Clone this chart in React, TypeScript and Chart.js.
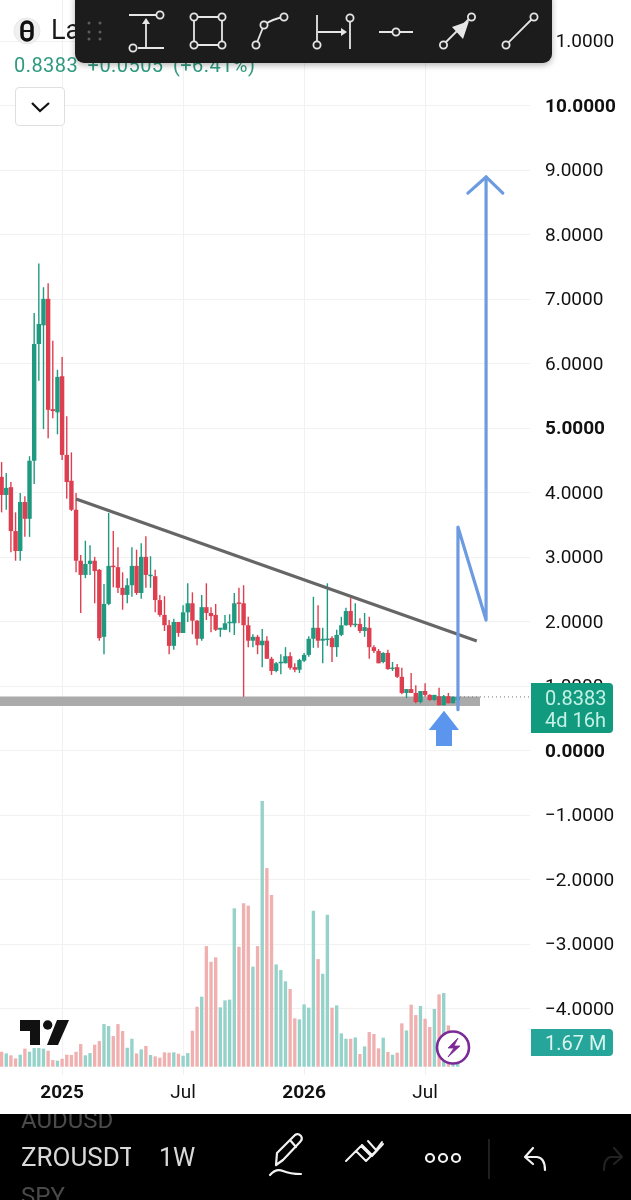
import React, { useEffect, useRef } from "react";
import { Chart, registerables } from "chart.js";

Chart.register(...registerables);

const opens = [4.25,3.97,4.09,3.41,3.10,3.86,3.60,4.50,6.31,6.60,7.01,5.30,5.25,5.81,4.59,4.19,3.74,2.95,2.73,2.90,2.95,2.81,1.77,2.28,2.87,2.85,2.53,2.42,2.57,2.87,2.45,3.01,2.71,2.71,2.34,2.11,1.95,1.63,2.00,1.83,2.15,2.29,2.02,1.74,2.23,2.14,2.11,1.88,1.88,1.98,1.98,2.29,2.29,1.95,1.71,1.77,1.64,1.71,1.43,1.24,1.36,1.36,1.47,1.30,1.26,1.40,1.49,1.74,1.91,1.71,1.72,1.75,1.61,1.80,1.95,2.17,1.95,1.97,1.86,1.91,1.61,1.55,1.38,1.52,1.27,1.30,1.15,0.90,0.96,0.90,0.76,0.93,0.87,0.79,0.85,0.71,0.85,0.74,0.788];
const highs = [4.48,4.31,4.17,3.70,4.00,3.95,4.57,6.79,7.56,7.19,7.25,6.36,5.91,6.11,5.19,4.63,4.00,3.04,3.26,3.19,3.01,2.82,2.59,3.69,3.41,3.16,2.77,2.68,3.16,3.12,3.22,3.33,3.02,2.81,2.42,2.40,2.03,2.05,2.00,2.26,2.60,2.46,2.03,2.42,2.60,2.23,2.28,1.91,2.11,2.12,2.45,2.53,2.57,2.08,1.81,1.80,1.89,1.78,1.46,1.38,1.50,1.61,1.53,1.36,1.43,1.52,1.78,2.39,2.26,1.91,2.60,1.78,1.88,2.08,2.22,2.37,2.29,2.06,2.14,2.08,1.64,1.58,1.53,1.57,1.38,1.35,1.29,0.96,1.21,1.02,0.93,1.05,0.88,0.87,0.98,0.87,0.90,0.85,0.87];
const lows = [3.70,3.74,3.08,2.95,2.95,3.32,3.32,4.14,5.74,4.99,4.85,5.16,4.91,4.51,3.91,3.72,2.77,2.14,2.68,2.73,2.29,1.71,1.50,2.26,2.54,2.45,2.19,2.29,2.39,2.42,2.36,2.53,2.53,2.15,2.08,1.86,1.50,1.57,1.77,1.83,2.00,1.81,1.64,1.71,2.03,1.84,1.86,1.77,1.88,1.84,1.80,1.98,0.84,1.61,1.61,1.50,1.30,1.43,1.18,1.22,1.19,1.36,1.26,1.22,1.21,1.38,1.46,1.60,1.60,1.36,1.63,1.38,1.46,1.78,1.94,1.92,1.92,1.83,1.77,1.43,1.52,1.36,1.36,1.26,1.24,1.13,0.88,0.82,0.90,0.74,0.74,0.84,0.78,0.78,0.71,0.71,0.74,0.74,0.76];
const closes = [3.97,4.08,3.41,3.10,3.86,3.60,4.50,6.31,6.62,7.01,5.29,5.27,5.80,4.59,4.17,3.74,2.95,2.73,2.90,2.95,2.79,1.75,2.28,2.87,2.85,2.53,2.42,2.57,2.87,2.45,3.01,2.73,2.73,2.34,2.11,1.95,1.63,2.00,1.83,2.15,2.29,2.02,1.74,2.23,2.14,2.09,1.88,1.91,1.98,2.00,2.29,2.28,1.95,1.71,1.77,1.64,1.71,1.43,1.24,1.36,1.38,1.47,1.29,1.26,1.41,1.49,1.74,1.91,1.71,1.74,1.74,1.61,1.80,1.95,2.17,1.95,1.97,1.86,1.92,1.61,1.55,1.36,1.52,1.27,1.29,1.15,0.90,0.96,0.90,0.76,0.93,0.87,0.79,0.87,0.71,0.85,0.74,0.84,0.8383];
const volumesM = [1.01,0.90,0.77,0.56,0.81,1.22,1.01,1.26,1.26,1.22,1.08,0.45,0.41,0.54,0.81,0.79,1.01,1.53,0.77,0.92,1.49,1.73,2.88,2.75,2.07,2.88,2.41,1.28,1.89,0.90,1.17,1.40,0.79,0.70,0.61,0.97,0.95,0.97,0.88,0.74,0.92,2.43,4.05,4.73,8.15,7.09,7.39,4.01,4.48,4.53,10.70,8.11,11.04,10.88,6.76,8.15,17.95,13.42,11.60,6.91,6.53,5.77,5.25,3.27,3.20,4.21,3.99,10.54,7.27,6.28,10.27,3.99,4.14,2.25,1.89,1.89,1.98,0.86,1.37,2.34,2.21,1.24,1.96,0.99,0.81,0.95,2.93,2.45,4.19,3.49,4.10,3.24,2.68,3.90,4.89,4.98,2.79,1.35,1.67];

const priceTicks = [11,10,9,8,7,6,5,4,3,2,1,0,-1,-2,-3,-4];
const boldPrices = [10,5,0];
const timeTicks = [13,39,65,91];
const timeLabels = ["2025","Jul","2026","Jul"];
const boldTimes = ["2025","2026"];

const lastPrice = 0.8383;
const trendLine = [{x:16,y:3.907},{x:102.1,y:1.705}];
const supportBand = [{x:-0.344,y:0.77},{x:102.8,y:0.77}];
const priceLine = [{x:98.5,y:lastPrice},{x:113.5,y:lastPrice}];
const projection = [{x:98.06,y:0.64},{x:98.06,y:3.473},{x:104.1,y:2.03},{x:104.1,y:8.9}];
const arrowHead = [{x:100.2,y:8.65},{x:104.1,y:8.9},{x:107.7,y:8.65}];
const upArrow = [[95.06,0.625],[98.28,0.326],[96.78,0.326],[96.78,0.078],[93.34,0.078],[93.34,0.326],[91.77,0.326]];

const UP = "#1f9a80";
const DOWN = "#dd3f50";
const UP_VOL = "#94d2ca";
const DOWN_VOL = "#f0b0b0";
const FONT = "Roboto";

const idx = closes.map((_, i) => i);
const isUp = idx.map((i) => closes[i] >= opens[i]);

const polygonPlugin = {
  id: "polygon",
  afterDatasetsDraw(chart: any) {
    const { ctx, scales } = chart;
    ctx.save();
    ctx.fillStyle = "#5b95ee";
    ctx.beginPath();
    upArrow.forEach(([x, y], k) => {
      const px = scales.x.getPixelForValue(x);
      const py = scales.y.getPixelForValue(y);
      if (k === 0) ctx.moveTo(px, py);
      else ctx.lineTo(px, py);
    });
    ctx.closePath();
    ctx.fill();
    ctx.restore();
  },
};

function fixAxis(size: "w" | "h", v: number) {
  return (s: any) => {
    if (size === "w") s.width = v;
    else s.height = v;
    s.paddingTop = 0;
    s.paddingBottom = 0;
    s.paddingLeft = 0;
    s.paddingRight = 0;
  };
}

const lineBase = { type: "line", pointRadius: 0, fill: false, tension: 0, yAxisID: "y", xAxisID: "x" };

function Toolbar() {
  const s = { stroke: "#e6e6e6", strokeWidth: 1.8, fill: "none" } as any;
  const c = (x: number, y: number, r = 3.6) => <circle cx={x} cy={y} r={r} {...s} fill="#1f1f1f" />;
  return (
    <svg width={631} height={80} style={{ position: "absolute", left: 0, top: 0 }}>
      <defs>
        <filter id="sh" x="-5%" y="-20%" width="110%" height="150%">
          <feDropShadow dx="0" dy="2" stdDeviation="3" floodColor="#000" floodOpacity="0.3" />
        </filter>
      </defs>
      <rect x={75} y={-10} width={477} height={73} rx={9} fill="#1f1f1f" filter="url(#sh)" />
      {[89, 100].map((x) => [23, 32, 39].map((y) => <circle key={`${x}-${y}`} cx={x} cy={y} r={1.5} fill="#5d5d5d" />))}
      <path d="M129 15H156M138 48H164M146 47V21" {...s} />
      <path d="M142 24L146 18L150 24Z" fill="#e6e6e6" />
      {c(160, 15)}{c(133, 48)}
      <path d="M194 17H222V45H194Z" {...s} />
      {c(194, 17)}{c(222, 17)}{c(194, 45)}{c(222, 45)}
      <path d="M256 45L264 25Q272 19 284 17" {...s} />
      {c(256, 45)}{c(264, 25)}{c(284, 17)}
      <path d="M317 15V45M350 18V49M318 32H345" {...s} />
      <path d="M341 28L347 32L341 36Z" fill="#e6e6e6" />
      {c(317, 45)}{c(350, 18)}
      <path d="M379 32H413" {...s} />
      {c(396, 32)}
      <path d="M443 45L471 17" {...s} />
      <path d="M452 27L469 21L463 39Z" fill="#e6e6e6" />
      {c(443.5, 45)}{c(471.5, 17)}
      <path d="M506 45L534 17" {...s} />
      {c(506, 45)}{c(534, 17)}
    </svg>
  );
}

function Footer() {
  const s = { stroke: "#f2f2f2", strokeWidth: 2.2, fill: "none", strokeLinecap: "round", strokeLinejoin: "round" } as any;
  const t = { position: "absolute", fontFamily: FONT, whiteSpace: "nowrap", lineHeight: 1 } as any;
  return (
    <div style={{ position: "absolute", left: 0, top: 1114, width: 631, height: 86, background: "#000", overflow: "hidden" }}>
      <span style={{ ...t, left: 21, top: -6, fontSize: 24, color: "#4a4a4a" }}>AUDUSD</span>
      <div style={{ position: "absolute", left: 21, top: 30, width: 110, height: 30, overflow: "hidden" }}>
        <span style={{ ...t, left: 0, top: 0, fontSize: 26, fontWeight: 400, color: "#d8d8d8" }}>ZROUSDT</span>
      </div>
      <span style={{ ...t, left: 159, top: 31, fontSize: 25, fontWeight: 400, color: "#d8d8d8" }}>1W</span>
      <span style={{ ...t, left: 21, top: 70, fontSize: 24, color: "#4a4a4a" }}>SPY</span>
      <svg width={631} height={86} style={{ position: "absolute", left: 0, top: 0 }}>
        <path d="M276 51L277 39L295 21Q298 19 301 22Q303 25 300 28L283 46Z M290 26L296 33" {...s} />
        <path d="M270 61Q276 54 283 57T301 60" {...s} />
        <path d="M346 47L356 37L366 47L371 42L361 32L346 47 M362 31L372 41L383 30L372 42L362 31" {...s} strokeWidth={2} />
        <path d="M368 27L376 36L382 28" {...s} strokeWidth={2} />
        <circle cx={430} cy={44} r={4} {...s} /><circle cx={443} cy={44} r={4} {...s} /><circle cx={456} cy={44} r={4} {...s} />
        <path d="M489 25V65" stroke="#2a2a2a" strokeWidth={1.5} />
        <path d="M533 34L525 43L533 50M526 43H537Q545 44 545 56" {...s} />
        <path d="M614 34L622 43L614 50M621 43H610Q604 45 604 56" {...s} stroke="#222" />
      </svg>
    </div>
  );
}

export default function App() {
  const ref = useRef<HTMLCanvasElement>(null);
  useEffect(() => {
    const chart = new Chart(ref.current as HTMLCanvasElement, {
      type: "bar",
      plugins: [polygonPlugin],
      data: {
        datasets: [
          {
            label: "Volume",
            yAxisID: "yVol",
            order: 10,
            grouped: false,
            barPercentage: 1,
            categoryPercentage: 0.72,
            data: idx.map((i) => ({ x: i, y: volumesM[i] })),
            backgroundColor: idx.map((i) => (isUp[i] ? UP_VOL : DOWN_VOL)),
          },
          {
            ...lineBase,
            label: "Support band",
            order: 9,
            data: supportBand,
            borderColor: "#aaaaaa",
            borderWidth: 9.5,
            borderCapStyle: "butt",
          },
          {
            label: "Wicks",
            yAxisID: "y",
            order: 8,
            grouped: false,
            barPercentage: 1,
            categoryPercentage: 0.3,
            data: idx.map((i) => ({ x: i, y: [lows[i], highs[i]] })),
            backgroundColor: idx.map((i) => (isUp[i] ? UP : DOWN)),
          },
          {
            label: "Bodies",
            yAxisID: "y",
            order: 7,
            grouped: false,
            barPercentage: 1,
            categoryPercentage: 0.95,
            minBarLength: 1.5,
            data: idx.map((i) => ({ x: i, y: [opens[i], closes[i]] })),
            backgroundColor: idx.map((i) => (isUp[i] ? UP : DOWN)),
          },
          {
            ...lineBase,
            label: "Last price",
            order: 6,
            data: priceLine,
            borderColor: "#777777",
            borderWidth: 1,
            borderDash: [1, 3],
          },
          {
            ...lineBase,
            label: "Trend",
            order: 5,
            data: trendLine,
            borderColor: "#666666",
            borderWidth: 3.2,
          },
          {
            ...lineBase,
            label: "Projection",
            order: 4,
            data: projection,
            borderColor: "#6c9be0",
            borderWidth: 3.2,
            borderCapStyle: "round",
            borderJoinStyle: "round",
          },
          {
            ...lineBase,
            label: "Head",
            order: 3,
            data: arrowHead,
            borderColor: "#6c9be0",
            borderWidth: 3.2,
            borderCapStyle: "round",
            borderJoinStyle: "round",
          },
        ] as any,
      },
      options: {
        responsive: false,
        animation: false,
        maintainAspectRatio: false,
        layout: { padding: 0 },
        plugins: { legend: { display: false }, title: { display: false }, tooltip: { enabled: false } },
        scales: {
          x: {
            type: "linear",
            position: "bottom",
            offset: false,
            min: -0.344,
            max: 113.54,
            afterBuildTicks: (s: any) => {
              s.ticks = timeTicks.map((value) => ({ value }));
            },
            afterFit: fixAxis("h", 39),
            grid: { color: "#f1f1f1", lineWidth: 1, drawTicks: false, offset: false },
            border: { display: false },
            ticks: {
              autoSkip: false,
              maxRotation: 0,
              padding: 7,
              color: "#111111",
              callback: (v: any) => timeLabels[timeTicks.indexOf(v)],
              font: (c: any) => ({
                family: FONT,
                size: 19,
                weight: boldTimes.includes(timeLabels[timeTicks.indexOf(c.tick?.value)]) ? "700" : "400",
              }),
            },
          },
          y: {
            type: "linear",
            position: "right",
            min: -5.0233,
            max: 11.6434,
            afterBuildTicks: (s: any) => {
              s.ticks = priceTicks.map((value) => ({ value }));
            },
            afterFit: fixAxis("w", 101),
            grid: { color: "#f1f1f1", lineWidth: 1, drawTicks: false },
            border: { display: false },
            ticks: {
              autoSkip: false,
              padding: 15,
              labelOffset: 1,
              color: "#111111",
              callback: (v: any) => (v < 0 ? "\u2212" : "") + Math.abs(v).toFixed(4),
              font: (c: any) => ({
                family: FONT,
                size: 19,
                weight: boldPrices.includes(c.tick?.value) ? "700" : "400",
              }),
            },
          },
          yVol: {
            type: "linear",
            display: false,
            position: "left",
            min: -0.56,
            max: 72.07,
          },
        },
      } as any,
    });
    return () => chart.destroy();
  }, []);

  const t = { position: "absolute", fontFamily: FONT, whiteSpace: "nowrap", lineHeight: 1 } as any;
  return (
    <div style={{ position: "absolute", left: 0, top: 0, width: 631, height: 1200, background: "#fff", overflow: "hidden" }}>
      <canvas ref={ref} width={631} height={1114} style={{ display: "block", position: "absolute", left: 0, top: 0 }} />

      <svg width={70} height={60} style={{ position: "absolute", left: 0, top: 0 }}>
        <circle cx={27} cy={31} r={13} fill="#f0f0f0" stroke="#e8e8e8" />
        <rect x={22} y={22} width={10} height={18} rx={5} fill="none" stroke="#111" strokeWidth={3.5} />
        <path d="M27 24V38" stroke="#f0f0f0" strokeWidth={2} />
        <path d="M22 31H27M27 31H32" stroke="#111" strokeWidth={2} />
      </svg>
      <span style={{ ...t, left: 51, top: 17, fontSize: 27, color: "#1a1a1a" }}>La</span>
      <span style={{ ...t, left: 14, top: 55, fontSize: 20, color: "#2f9a80", letterSpacing: 0.45, wordSpacing: 4 }}>0.8383 +0.0505 (+6.41%)</span>

      <div style={{ position: "absolute", left: 15, top: 87, width: 50, height: 39, boxSizing: "border-box", border: "1px solid #dfdfdf", borderRadius: 4, background: "#fff" }} />
      <svg width={70} height={130} style={{ position: "absolute", left: 0, top: 0 }}>
        <path d="M32 103L40 111L49 103" fill="none" stroke="#111" strokeWidth={2.2} />
      </svg>

      <Toolbar />

      <div style={{ position: "absolute", left: 531, top: 683, width: 82, height: 50, background: "#129a7f", borderRadius: "0 4px 4px 0" }}>
        <span style={{ ...t, left: 14, top: 5, fontSize: 20, color: "#c4f1e6" }}>0.8383</span>
        <span style={{ ...t, left: 14, top: 27, fontSize: 20, color: "#c4f1e6" }}>4d 16h</span>
      </div>
      <div style={{ position: "absolute", left: 531, top: 1029, width: 82, height: 27, background: "#26a69a", borderRadius: "0 4px 4px 0" }}>
        <span style={{ ...t, left: 14, top: 4, fontSize: 20, color: "#d9f4ef" }}>1.67 M</span>
      </div>

      <svg width={100} height={60} viewBox="0 1010 100 60" style={{ position: "absolute", left: 0, top: 1010 }}>
        <path d="M20 1020H40V1045H30V1031H20Z" fill="#111" />
        <circle cx={47.7} cy={1025} r={4.7} fill="#111" />
        <path d="M57 1020H69L58 1045H47Z" fill="#111" />
      </svg>
      <svg width={50} height={50} viewBox="428 1023 50 50" style={{ position: "absolute", left: 428, top: 1023 }}>
        <circle cx={453} cy={1047.5} r={16} fill="#fff" stroke="#7b2a96" strokeWidth={2.6} />
        <path d="M458 1038L448 1048H454L448 1057L460 1046H454L458 1038Z" fill="#7b2a96" stroke="#7b2a96" strokeWidth={0.8} />
      </svg>

      <Footer />
    </div>
  );
}
